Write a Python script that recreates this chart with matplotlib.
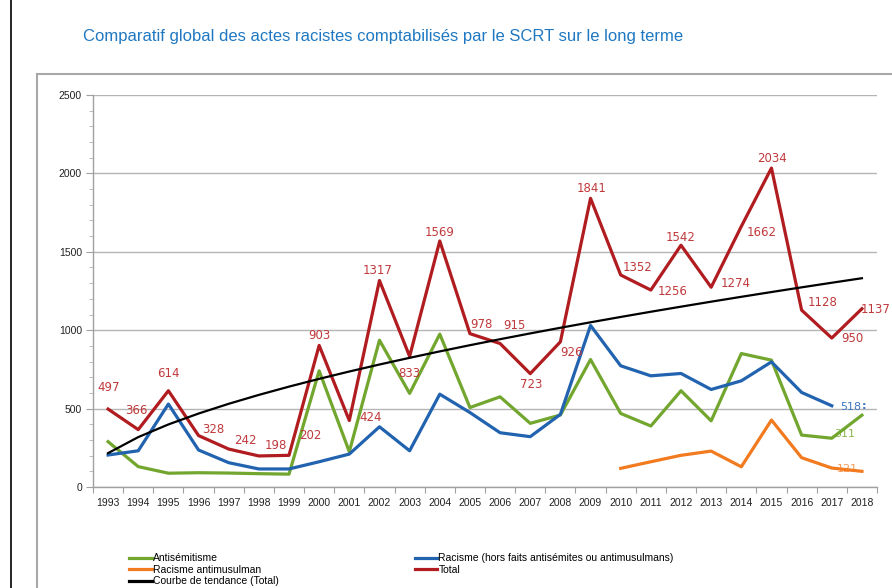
""" Comparatif global des actes racistes comptabilises par le SCRT (1993-2018).
"""

import numpy as np
from matplotlib import pyplot as plt
from matplotlib import font_manager
from matplotlib.lines import Line2D
from matplotlib.patches import Rectangle

# ------------------------------------------------------------------------------
# Data.
# ------------------------------------------------------------------------------

years = [str(y) for y in range(1993, 2019)]

total = [497, 366, 614, 328, 242, 198, 202, 903, 424, 1317, 833, 1569, 978,
         915, 723, 926, 1841, 1352, 1256, 1542, 1274, 1662, 2034, 1128, 950,
         1137]

antisemitisme = [289, 130, 88, 91, 89, 85, 82, 741, 225, 936, 597, 975, 507,
                 575, 406, 459, 813, 469, 389, 614, 422, 851, 809, 331, 311,
                 458]

racisme = [204, 231, 529, 236, 155, 115, 115, 161, 210, 384, 231, 592, 475,
           346, 321, 463, 1030, 773, 709, 724, 622, 677, 798, 603, 518]

antimusulman_years = years[17:]
antimusulman = [119, 161, 202, 229, 129, 427, 187, 121, 100]

legend_labels = ["Antisémitisme", "Racisme antimusulman",
                 "Courbe de tendance (Total)",
                 "Racisme (hors faits antisémites ou antimusulmans)", "Total"]

title = "Comparatif global des actes racistes comptabilisés par le SCRT sur le long terme"

# Label offsets (pixels, x right / y up) for the Total labels.
total_offsets = [(1, 22), (-2, 19), (0, 17), (15, 6), (17, 9), (17, 10),
                 (21, 20), (0, 10), (21, 3), (-2, 10), (0, -17), (0, 8),
                 (12, 9), (14, 18), (1, -11), (11, -11), (1, 10), (17, 8),
                 (22, -1), (0, 8), (25, 4), (20, -6), (1, 10), (21, 8),
                 (21, 0), (14, -1)]

# ------------------------------------------------------------------------------
# Styles.
# ------------------------------------------------------------------------------

GREEN = "#72a62e"
BLUE = "#2263b0"
ORANGE = "#f27a1f"
RED = "#b01c1f"

installed = {f.name for f in font_manager.fontManager.ttflist}
NARROW = next(n for n in ["Liberation Sans Narrow", "DejaVu Sans Condensed",
                          "Liberation Sans", "DejaVu Sans"] if n in installed)

x_all = np.arange(len(years))
x_rac = np.arange(len(racisme))
x_mus = np.array([years.index(y) for y in antimusulman_years])

# Power trend line of the total (as Excel does).
coef = np.polyfit(np.log(x_all + 1), np.log(total), 1)
trend = np.exp(coef[1]) * (x_all + 1) ** coef[0]

# ------------------------------------------------------------------------------
# Figure.
# ------------------------------------------------------------------------------

fig = plt.figure(figsize=(8.92, 5.88), dpi=100)
fig.patch.set_facecolor("white")

# Left black rule and chart frame.
fig.add_artist(Line2D([11 / 892, 11 / 892], [0, 1], color="black", lw=1.2))
fig.add_artist(Rectangle((37 / 892, -0.01), 1.0, (588 - 74) / 588 + 0.01,
                         fill=False, edgecolor="#a8a8a8", lw=1.5))

fig.text(83 / 892, 1 - 36 / 588, title, color="#1f78c1", fontsize=12,
         family=NARROW, va="center", ha="left")

ax = fig.add_axes([93 / 892, 1 - 487 / 588, 784 / 892, 392 / 588])

ax.plot(x_all, antisemitisme, color=GREEN, lw=2.3, zorder=3)
ax.plot(x_mus, antimusulman, color=ORANGE, lw=2.3, zorder=3)
ax.plot(x_all, trend, color="black", lw=1.6, zorder=5)
ax.plot(x_rac, racisme, color=BLUE, lw=2.3, zorder=4)
ax.plot(x_all, total, color=RED, lw=2.3, zorder=4)

# Data labels.
for i, v in enumerate(total):
    dx, dy = total_offsets[i]
    ax.annotate(str(v), (x_all[i], v), xytext=(dx * 0.72, dy * 0.72),
                textcoords="offset points", ha="center", va="center",
                color="#c0393b", fontsize=8.5, zorder=6)

ax.annotate(str(racisme[-1]), (x_rac[-1], racisme[-1]), xytext=(19 * 0.72, -1 * 0.72),
            textcoords="offset points", ha="center", va="center",
            color="#3f78c0", fontsize=8, zorder=6)
ax.annotate(":", (x_rac[-1], racisme[-1]), xytext=(32 * 0.72, 0),
            textcoords="offset points", ha="center", va="center",
            color="#3f78c0", fontsize=8, fontweight="bold", zorder=6)
ax.annotate(str(antisemitisme[-2]), (x_all[-2], antisemitisme[-2]),
            xytext=(13 * 0.72, 4 * 0.72), textcoords="offset points",
            ha="center", va="center", color="#8db64e", fontsize=8, zorder=2)
ax.annotate(str(antimusulman[-2]), (x_mus[-2], antimusulman[-2]),
            xytext=(16 * 0.72, -1 * 0.72), textcoords="offset points",
            ha="center", va="center", color="#f59a55", fontsize=8, zorder=2)

# Axes formatting.
ax.set_xlim(-0.5, len(years) - 0.5)
ax.set_ylim(0, 2500)
ax.set_yticks(np.arange(0, 2501, 500))
ax.set_yticks(np.arange(0, 2501, 100), minor=True)
ax.yaxis.grid(True, which="major", color="#b5b5b5", lw=1.0)
ax.set_axisbelow(True)

ax.set_xticks(np.arange(-0.5, len(years), 1.0))
ax.set_xticklabels([])
ax.set_xticks(x_all, minor=True)
ax.set_xticklabels(years, minor=True)
ax.tick_params(axis="x", which="major", direction="out", length=4,
               color="#a0a0a0")
ax.tick_params(axis="x", which="minor", length=0, pad=8, labelsize=7.5,
               labelcolor="#222222")
ax.tick_params(axis="y", which="major", direction="out", length=5,
               color="#a0a0a0", labelsize=7.5, labelcolor="#222222", pad=3)
ax.tick_params(axis="y", which="minor", direction="out", length=3,
               color="#b0b0b0")
for lbl in ax.get_xticklabels(minor=True) + ax.get_yticklabels():
    lbl.set_family(NARROW)

for side in ["top", "right"]:
    ax.spines[side].set_visible(False)
for side in ["left", "bottom"]:
    ax.spines[side].set_color("#a0a0a0")
    ax.spines[side].set_linewidth(1.0)

# Legend.
handles = [Line2D([], [], color=c, lw=2.3)
           for c in [GREEN, ORANGE, "black", BLUE, RED]]
fig.legend(handles, legend_labels, ncol=2, loc="upper left",
           bbox_to_anchor=(122 / 892, 1 - 546 / 588), frameon=False,
           prop={"family": NARROW, "size": 7.5}, handlelength=2.2,
           handletextpad=0.1, labelspacing=0.15, columnspacing=13.0,
           borderpad=0.2)

plt.savefig("out.png", dpi=100)
